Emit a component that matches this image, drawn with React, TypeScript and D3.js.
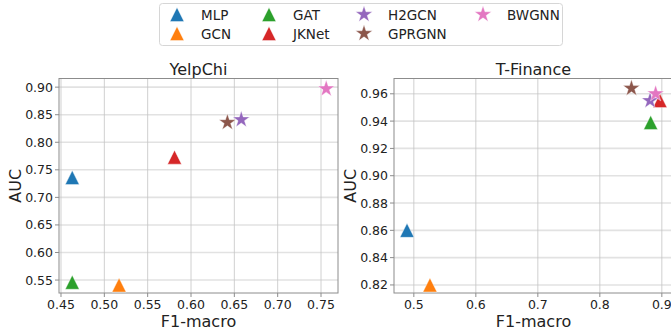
import React from "react";
import * as d3 from "d3";

// models in legend order
const models = ["MLP", "GCN", "GAT", "JKNet", "H2GCN", "GPRGNN", "BWGNN"];
const shapes = ["tri", "tri", "tri", "tri", "star", "star", "star"];
const colors = ["#1f77b4", "#ff7f0e", "#2ca02c", "#d62728", "#9467bd", "#8c564b", "#e377c2"];

// YelpChi: F1-macro and AUC per model
const yelpF1 = [0.463, 0.517, 0.463, 0.581, 0.658, 0.642, 0.756];
const yelpAUC = [0.736, 0.541, 0.546, 0.773, 0.841, 0.836, 0.897];
const yelpXTicks = [0.45, 0.5, 0.55, 0.6, 0.65, 0.7, 0.75];
const yelpYTicks = [0.55, 0.6, 0.65, 0.7, 0.75, 0.8, 0.85, 0.9];

// T-Finance
const finF1 = [0.489, 0.526, 0.882, 0.897, 0.881, 0.851, 0.890];
const finAUC = [0.860, 0.820, 0.939, 0.955, 0.955, 0.964, 0.960];
const finXTicks = [0.5, 0.6, 0.7, 0.8, 0.9];
const finYTicks = [0.82, 0.84, 0.86, 0.88, 0.9, 0.92, 0.94, 0.96];

const FONT = "DejaVu Sans, sans-serif";

const triPath = (r: number) => `M0,${-r}L${r},${r}L${-r},${r}Z`;
const starPath = d3.symbol(d3.symbolStar, (8.8 * 8.8) / 0.8908130915292852)() as string;

const Marker = ({ shape, color, x, y }: { shape: string; color: string; x: number; y: number }) => (
  <path
    d={shape === "tri" ? triPath(7) : starPath}
    transform={`translate(${x},${y})`}
    fill={color}
    stroke="#fff"
    strokeWidth={0.4}
  />
);

type PanelProps = {
  title: string;
  left: number;
  right: number;
  top: number;
  bottom: number;
  xDomain: [number, number];
  yDomain: [number, number];
  xTicks: number[];
  yTicks: number[];
  xFmt: string;
  yFmt: string;
  f1: number[];
  auc: number[];
};

const Panel = (p: PanelProps) => {
  const x = d3.scaleLinear().domain(p.xDomain).range([p.left, p.right]);
  const y = d3.scaleLinear().domain(p.yDomain).range([p.bottom, p.top]);
  const fx = d3.format(p.xFmt);
  const fy = d3.format(p.yFmt);
  const cx = (p.left + p.right) / 2;
  const cy = (p.top + p.bottom) / 2;
  return (
    <g fontFamily={FONT}>
      {p.yTicks.map((t) => (
        <line key={"gy" + t} x1={p.left} x2={p.right} y1={y(t)} y2={y(t)} stroke="#e2e2e2" strokeWidth={1.6} />
      ))}
      {p.xTicks.map((t) => (
        <line key={"gx" + t} x1={x(t)} x2={x(t)} y1={p.top} y2={p.bottom} stroke="#c4c4c4" strokeWidth={0.8} />
      ))}
      <rect
        x={p.left}
        y={p.top}
        width={p.right - p.left}
        height={p.bottom - p.top}
        fill="none"
        stroke="#8c8c8c"
        strokeWidth={1}
      />
      {p.xTicks.map((t) => (
        <g key={"tx" + t}>
          <line x1={x(t)} x2={x(t)} y1={p.bottom} y2={p.bottom + 4} stroke="#8c8c8c" />
          <text x={x(t)} y={p.bottom + 16} textAnchor="middle" fontSize={12.5} fill="#222">
            {fx(t)}
          </text>
        </g>
      ))}
      {p.yTicks.map((t) => (
        <g key={"ty" + t}>
          <line x1={p.left - 4} x2={p.left} y1={y(t)} y2={y(t)} stroke="#8c8c8c" />
          <text x={p.left - 6} y={y(t) + 4.5} textAnchor="end" fontSize={12.5} fill="#222">
            {fy(t)}
          </text>
        </g>
      ))}
      <text x={cx} y={p.top - 4} textAnchor="middle" fontSize={16} fill="#222">
        {p.title}
      </text>
      <text x={cx} y={p.bottom + 34} textAnchor="middle" fontSize={16} fill="#222">
        F1-macro
      </text>
      <text
        transform={`translate(${p.left - 38},${cy}) rotate(-90)`}
        textAnchor="middle"
        fontSize={16}
        fill="#222"
      >
        AUC
      </text>
      <g>
        {models.map((m, i) => (
          <Marker key={m} shape={shapes[i]} color={colors[i]} x={x(p.f1[i])} y={y(p.auc[i])} />
        ))}
      </g>
    </g>
  );
};

// legend column / row layout (matplotlib ncol=4 fills columns first)
const legendCols = [177, 269, 364, 483];

const Legend = () => (
  <g fontFamily={FONT}>
    <rect x={159.5} y={3.5} width={403} height={42} rx={3} fill="#fff" fillOpacity={0.8} stroke="#d6d6d6" />
    {models.map((m, i) => {
      const col = Math.floor(i / 2);
      const row = i % 2;
      const mx = legendCols[col];
      const my = row === 0 ? 14.5 : 33.5;
      return (
        <g key={m}>
          <Marker shape={shapes[i]} color={colors[i]} x={mx} y={my} />
          <text x={mx + 24} y={my + 5} fontSize={13.5} fill="#222">
            {m}
          </text>
        </g>
      );
    })}
  </g>
);

export default function App() {
  return (
    <svg
      width={671}
      height={334}
      viewBox="0 0 671 334"
      style={{ position: "absolute", left: 0, top: 0, background: "#fff" }}
    >
      <Panel
        title="YelpChi"
        left={59}
        right={338}
        top={78.5}
        bottom={293}
        xDomain={[0.4477, 0.7696]}
        yDomain={[0.5265, 0.9157]}
        xTicks={yelpXTicks}
        yTicks={yelpYTicks}
        xFmt=".2f"
        yFmt=".2f"
        f1={yelpF1}
        auc={yelpAUC}
      />
      <Panel
        title="T-Finance"
        left={394}
        right={673}
        top={78.5}
        bottom={293}
        xDomain={[0.468, 0.918]}
        yDomain={[0.8141, 0.9712]}
        xTicks={finXTicks}
        yTicks={finYTicks}
        xFmt=".1f"
        yFmt=".2f"
        f1={finF1}
        auc={finAUC}
      />
      <Legend />
    </svg>
  );
}
